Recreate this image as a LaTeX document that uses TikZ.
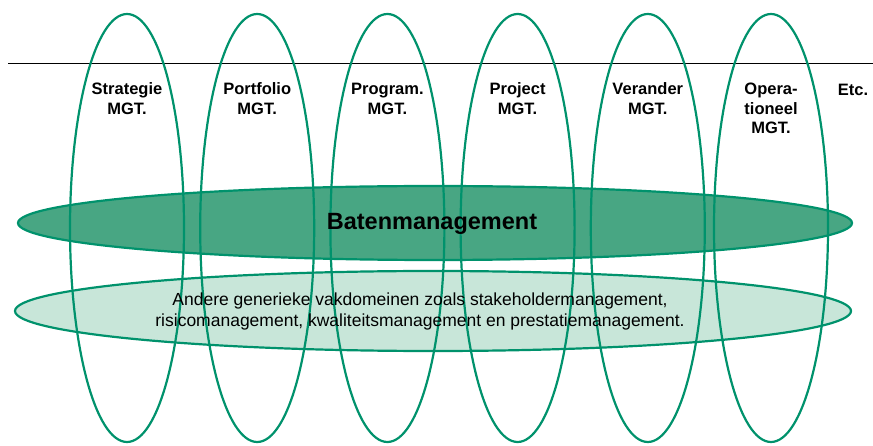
\documentclass[tikz,border=0pt]{standalone}
\usepackage{fontspec}
\setmainfont{Liberation Sans}
\usetikzlibrary{shapes.geometric,positioning}
\definecolor{mgtgreen}{RGB}{0,146,108}
\definecolor{batenfill}{RGB}{72,166,131}
\definecolor{anderefill}{RGB}{200,230,217}

\begin{document}
\begin{tikzpicture}[x=1pt, y=-1pt,
  column/.style={ellipse, draw=mgtgreen, line width=2.2pt, minimum width=114pt, minimum height=428pt, inner sep=0pt},
  band/.style={ellipse, draw=mgtgreen, line width=2.2pt, inner sep=0pt},
  mgtlabel/.style={align=center, inner sep=0pt, font=\fontsize{16.5}{19.5}\selectfont\bfseries}]
  \useasboundingbox (0,0) rectangle (873,446);

  % Bands
  \node[band, fill=batenfill, minimum width=834pt, minimum height=74pt] (baten) at (435,223) {};
  \node[band, fill=anderefill, minimum width=836pt, minimum height=80pt] (andere) at (433,311) {};

  % Top line
  \coordinate (hl) at (8,63);
  \coordinate (hr) at (873,63);
  \draw[line width=0.9pt] (hl) -- (hr);

  % Columns
  \node[column] (strat) at (127,228) {};
  \node[column, right=14pt of strat] (port) {};
  \node[column, right=14pt of port] (prog) {};
  \node[column, right=14pt of prog] (proj) {};
  \node[column, right=14pt of proj] (veran) {};
  \node[column, right=7pt of veran] (oper) {};

  % Labels
  \node[mgtlabel, below=68pt of strat.north] {\strut Strategie\\MGT.};
  \node[mgtlabel, below=68pt of port.north] {\strut Portfolio\\MGT.};
  \node[mgtlabel, below=68pt of prog.north] {\strut Program.\\MGT.};
  \node[mgtlabel, below=68pt of proj.north] {\strut Project\\MGT.};
  \node[mgtlabel, below=68pt of veran.north] {\strut Verander\\MGT.};
  \node[mgtlabel, below=68pt of oper.north] {\strut Opera-\\tioneel\\MGT.};
  \node[mgtlabel, anchor=north] at (853,82) {\strut Etc.};

  \node[font=\fontsize{23.5}{26}\selectfont\bfseries, anchor=base] at (432,230) {Batenmanagement};
  \node[align=center, inner sep=0pt, anchor=north, font=\fontsize{17.5}{21}\selectfont] at (420,290.5)
    {\strut Andere generieke vakdomeinen zoals stakeholdermanagement,\\risicomanagement, kwaliteitsmanagement en prestatiemanagement.};
\end{tikzpicture}
\end{document}
